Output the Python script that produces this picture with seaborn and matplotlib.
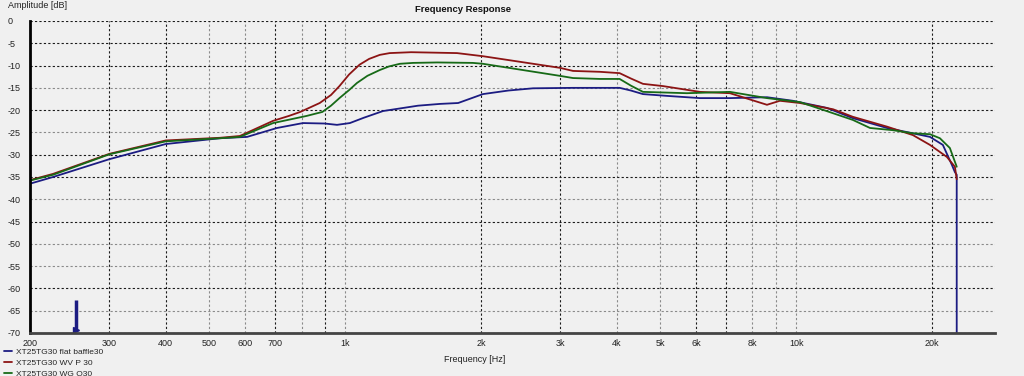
import numpy as np
import pandas as pd
import matplotlib
matplotlib.use("Agg")
import matplotlib.pyplot as plt
import seaborn as sns
from matplotlib.ticker import FixedLocator, FixedFormatter, NullLocator

# ---------------- data ----------------
series_names = ["XT25TG30 flat baffle30", "XT25TG30 WV P 30", "XT25TG30 WG Q30"]
series_colors = ["#1c1c82", "#8c1414", "#176a17"]

blue_freq = [200, 225, 300, 400, 528, 606, 706, 806, 900, 959, 1024, 1100, 1213,
             1450, 1623, 1780, 2020, 2300, 2609, 3200, 4060, 4300, 4574, 5168,
             6117, 7132, 8615, 9834, 11700, 13360, 15900, 18150, 19800, 21150,
             22150, 22490, 22700, 22700]
blue_db = [-36.5, -35.0, -31.0, -27.6, -26.3, -26.0, -24.0, -22.9, -23.0, -23.3,
           -22.9, -21.7, -20.2, -19.0, -18.6, -18.4, -16.4, -15.6, -15.1, -15.0,
           -15.0, -15.6, -16.4, -16.8, -17.3, -17.3, -17.1, -17.9, -19.5, -21.8,
           -24.0, -25.2, -26.0, -27.8, -32.3, -33.9, -34.5, -70.0]

red_freq = [200, 225, 300, 400, 528, 584, 692, 750, 795, 878, 930, 971, 1020,
            1076, 1130, 1193, 1255, 1400, 1770, 2020, 2990, 3200, 3671, 4060,
            4300, 4574, 5064, 6117, 7132, 8615, 9203, 10196, 12070, 13360, 15900,
            18150, 19800, 21590, 22490, 22700]
red_db = [-35.7, -34.3, -29.8, -26.8, -26.2, -25.8, -22.4, -21.3, -20.4, -18.4,
          -16.6, -14.6, -12.0, -9.8, -8.5, -7.6, -7.2, -7.0, -7.2, -7.9, -10.5,
          -11.2, -11.4, -11.7, -12.9, -14.1, -14.6, -15.9, -16.2, -18.8, -17.9,
          -18.4, -19.8, -21.5, -23.7, -25.6, -27.8, -30.5, -32.7, -35.5]

green_freq = [200, 225, 300, 400, 528, 584, 692, 821, 890, 930, 971, 1020, 1062,
              1120, 1193, 1250, 1322, 1414, 1600, 1919, 2020, 2990, 3200, 3671,
              4060, 4300, 4574, 5725, 7132, 8615, 10196, 11290, 13360, 14580,
              16390, 18150, 19800, 20830, 21920, 22700]
green_db = [-35.8, -34.5, -29.9, -27.0, -26.3, -26.0, -22.9, -21.3, -20.4, -19.0,
            -17.3, -15.5, -13.9, -12.3, -11.0, -10.2, -9.6, -9.4, -9.3, -9.4,
            -9.6, -12.3, -12.8, -13.0, -13.0, -14.5, -15.9, -16.2, -15.9, -17.3,
            -18.2, -19.7, -22.2, -24.0, -24.5, -25.2, -25.4, -26.3, -28.5, -32.7]

x_ticks = [200, 300, 400, 500, 600, 700, 800, 900, 1000, 2000, 3000, 4000, 5000,
           6000, 7000, 8000, 9000, 10000, 20000]
x_tick_labels = ["200", "300", "400", "500", "600", "700", "", "", "1k", "2k", "3k",
                 "4k", "5k", "6k", "", "8k", "", "10k", "20k"]
y_ticks = [0, -5, -10, -15, -20, -25, -30, -35, -40, -45, -50, -55, -60, -65, -70]
y_tick_labels = [str(v) for v in y_ticks]

# ---------------- table ----------------
frames = []
for name, f, d in zip(series_names, [blue_freq, red_freq, green_freq],
                      [blue_db, red_db, green_db]):
    frames.append(pd.DataFrame({"freq": f, "db": d, "series": name}))
df = pd.concat(frames, ignore_index=True)

# ---------------- figure ----------------
sns.set_style("white")
plt.rcParams["font.family"] = ["Liberation Sans", "DejaVu Sans"]
bg = "#f0f0f0"
fig = plt.figure(figsize=(10.24, 3.76), dpi=100, facecolor=bg)
ax = fig.add_axes([30 / 1024, 1 - 333 / 376, 965 / 1024, 312 / 376])
ax.set_facecolor(bg)

sns.lineplot(data=df, x="freq", y="db", hue="series", hue_order=series_names,
             palette=series_colors, estimator=None, sort=False, units="series",
             linewidth=1.3, ax=ax, legend=True)

ax.set_xscale("log")
ax.set_xlim(200, 27600)
ax.set_ylim(-70, 0)

ax.xaxis.set_major_locator(FixedLocator(x_ticks))
ax.xaxis.set_major_formatter(FixedFormatter(x_tick_labels))
ax.xaxis.set_minor_locator(NullLocator())
ax.set_yticks(y_ticks)
ax.set_yticklabels(y_tick_labels)

ax.tick_params(axis="x", length=0, pad=4, labelsize=6.5, colors="#222222")
ax.tick_params(axis="y", length=0, pad=16, labelsize=6.5, colors="#222222")
for lab in ax.get_yticklabels():
    lab.set_horizontalalignment("left")

ax.grid(True, which="major", linestyle=(0, (2, 2)), linewidth=0.8)
x_dark = [False, True, True, False, False, True, False, True, False, True, True,
          False, False, True, True, False, False, False, True]
for gl, dark in zip(ax.get_xgridlines(), x_dark):
    gl.set_color("#1a1a1a" if dark else "#8a8a8a")
y_dark = [True, True, True, False, True, False, True, True, False, True, False,
          False, True, False, True]
for gl, dark in zip(ax.get_ygridlines(), y_dark):
    gl.set_color("#1a1a1a" if dark else "#8a8a8a")

for s in ["top", "right"]:
    ax.spines[s].set_visible(False)
ax.spines["left"].set_color("#000000")
ax.spines["left"].set_linewidth(2)
ax.spines["bottom"].set_color("#444444")
ax.spines["bottom"].set_linewidth(2)

ax.set_xlabel("")
ax.set_ylabel("")

# small cursor marker near the bottom
ax.plot([253], [-69.4], marker=">", color="#1c1c82", markersize=5, clip_on=False)
ax.plot([253, 253], [-69.0, -62.5], color="#1c1c82", linewidth=2.5,
        solid_capstyle="butt")

# texts
fig.text(463 / 1024, 1 - 10 / 376, "Frequency Response", ha="center", va="center",
         fontsize=6.8, fontweight="bold", color="#111111")
fig.text(8 / 1024, 1 - 5 / 376, "Amplitude [dB]", ha="left", va="center",
         fontsize=6.5, color="#222222")
fig.text(475 / 1024, 1 - 360 / 376, "Frequency [Hz]", ha="center", va="center",
         fontsize=6.5, color="#222222")

sns.move_legend(ax, "upper left", bbox_to_anchor=(4 / 1024, 1 - 348 / 376),
                bbox_transform=fig.transFigure, frameon=False, title=None,
                fontsize=6, handlelength=1.0, handletextpad=0.4,
                labelspacing=0.38, borderaxespad=0, borderpad=0)
for line in ax.get_legend().get_lines():
    line.set_linewidth(1.3)

fig.savefig("out.png", dpi=100, facecolor=bg)
